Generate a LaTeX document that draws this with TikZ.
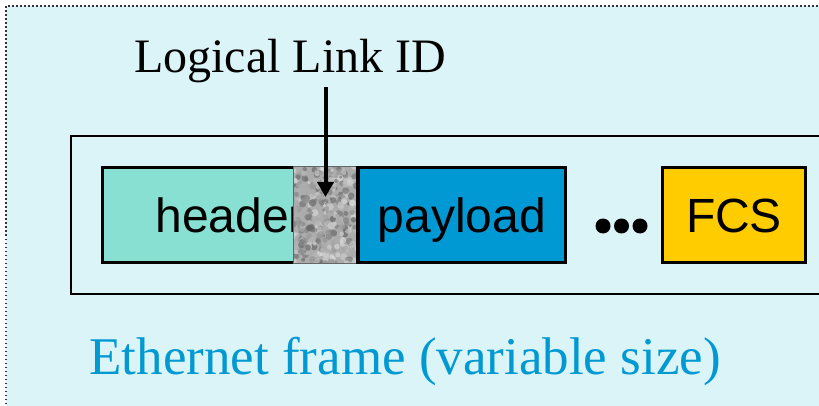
\documentclass[tikz,border=0pt]{standalone}
\usepackage{fontspec}
\setmainfont{Liberation Serif}
\newfontfamily\sansfont{Liberation Sans}
\usetikzlibrary{arrows.meta, positioning}

\definecolor{bgcyan}{RGB}{218,244,247}
\definecolor{hdrgreen}{RGB}{136,224,210}
\definecolor{plblue}{RGB}{0,153,212}
\definecolor{fcsyellow}{RGB}{255,204,0}
\definecolor{titleblue}{RGB}{0,153,210}
\definecolor{noisegray}{RGB}{172,172,172}

\begin{document}
\begin{tikzpicture}[x=1pt,y=-1pt,
    field/.style={draw,line width=3.3pt,minimum height=95pt,inner sep=0pt,outer sep=0pt,
        font=\sansfont\fontsize{48}{50}\selectfont,text height=36pt,text depth=0pt},
    ptr/.style={-{Triangle[length=15pt,width=16pt]},line width=4pt}]
    \clip (0,0) rectangle (819,406);
    % Background panel with dotted top and left edges
    \fill[bgcyan] (6,6) rectangle (830,420);
    \draw[line width=1.5pt,dash pattern=on 1.5pt off 2.5pt,black!80] (6,420) -- (6,6) -- (830,6);
    % Frame outline
    \draw[line width=2pt] (830,294) -- (71,294) -- (71,136) -- (830,136);

    % Fields of the frame
    \node[field,fill=hdrgreen,minimum width=255.5pt] (header) at (230.25,215) {header};
    \node[fill=noisegray,minimum width=65pt,minimum height=97pt,inner sep=0pt,outer sep=0pt,anchor=east] (lid) at (header.east) {};
    \begin{scope}
        \clip (lid.south west) rectangle (lid.north east);
        \pgfmathsetseed{7}
        \foreach \i in {1,...,380}{
            \pgfmathsetmacro\nx{293+65*rnd}
            \pgfmathsetmacro\ny{166+97*rnd}
            \pgfmathtruncatemacro\ns{12+50*rnd}
            \pgfmathsetmacro\nr{1.5+2.2*rnd}
            \fill[black!\ns,opacity=0.7] (\nx,\ny) circle (\nr pt);
        }
    \end{scope}
    \draw[black!60,line width=0.8pt] (lid.south west) rectangle (lid.north east);
    \node[field,fill=plblue,minimum width=207.5pt,right=0pt of header] (payload) {payload};
    \foreach \cx in {603,621.5,640}
        \fill (\cx,226) circle (7.5pt);
    \node[field,fill=fcsyellow,minimum width=143pt,right=97pt of payload] (fcs) {FCS};

    % Labels
    \node[font=\fontsize{48}{50}\selectfont,inner sep=3.5pt,anchor=base] (llid) at (290,73) {Logical Link ID};
    \node[font=\fontsize{53}{56}\selectfont,text=titleblue,anchor=base] (ether) at (405,374) {Ethernet frame (variable size)};
    \draw[ptr] (llid.south -| lid.center) -- ([yshift=18pt]lid.center);
\end{tikzpicture}
\end{document}
